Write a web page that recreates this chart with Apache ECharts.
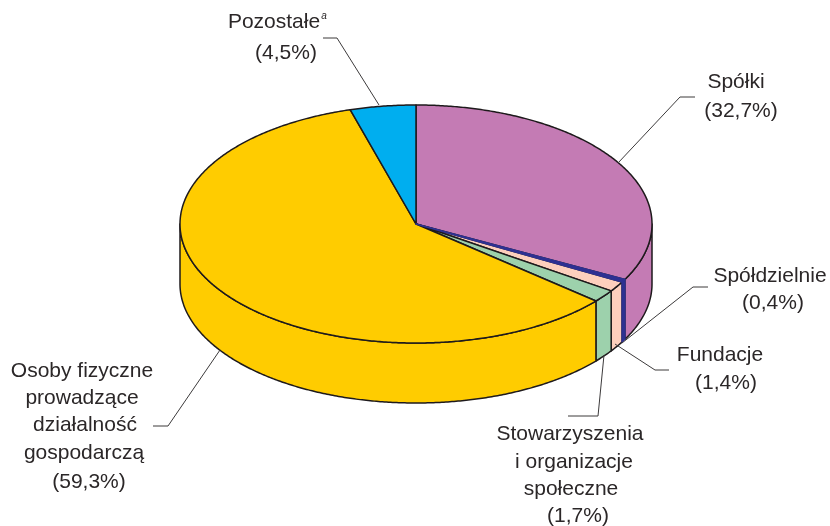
<!DOCTYPE html>
<html>
<head>
    <meta charset="utf-8">
    <title>Struktura podmiotów</title>
    <script src="https://cdn.jsdelivr.net/npm/echarts@6/dist/echarts.min.js"></script>
    <style>
        html, body { margin: 0; padding: 0; background: #fff; }
        #chart { width: 830px; height: 526px; }
    </style>
</head>
<body>
<div id="chart"></div>
<script>
// dane
const shares = [32.7, 0.4, 1.4, 1.7, 59.3, 4.5];
const nameLines = [
    ['Spółki'],
    ['Spółdzielnie'],
    ['Fundacje'],
    ['Stowarzyszenia', 'i organizacje', 'społeczne'],
    ['Osoby fizyczne', 'prowadzące', 'działalność', 'gospodarczą'],
    ['Pozostałe']
];
const footnotes = ['', '', '', '', '', 'a'];

// wyglad
const sliceColors = ['#c47bb4', '#2e3192', '#fdcfbd', '#9dd1ac', '#ffcc00', '#00aeef'];
const strokeColors = ['#1e1a1c', '#2e3192', '#1e1a1c', '#1e1a1c', '#1e1a1c', '#1e1a1c'];
const sliceZ = [1, 3, 2, 2, 2, 2];
const pie = { cx: 416, cy: 224, rx: 236, ry: 119, depth: 60 };

// srodek kazdej linii tekstu [x, y]
const labelPos = [
    [[736, 82], [741, 111]],
    [[770, 276], [773, 303]],
    [[720, 355], [726, 383]],
    [[570, 434], [574, 462], [571, 489], [578, 516]],
    [[82, 371], [82, 398], [85, 425], [84, 453], [89, 482]],
    [[274, 22], [286, 53]]
];
const notePos = [null, null, null, null, null, [324, 16]];
const leaders = [
    [[695, 97], [680, 97], [618, 163]],
    [[708, 287], [693, 287], [622, 343]],
    [[669, 370], [655, 370], [615, 344]],
    [[568, 416], [598, 416], [604, 355]],
    [[153, 426], [168, 426], [220, 350]],
    [[323, 38], [337, 38], [379, 105]]
];

const total = shares.reduce((a, b) => a + b, 0);

function rimPoint(deg, dy) {
    const t = deg * Math.PI / 180;
    return [pie.cx + pie.rx * Math.sin(t), pie.cy - pie.ry * Math.cos(t) + dy];
}

function arc(from, to, dy) {
    const pts = [];
    const n = Math.max(2, Math.ceil((to - from) * 2));
    for (let i = 0; i <= n; i++) pts.push(rimPoint(from + (to - from) * i / n, dy));
    return pts;
}

function renderSlice(params, api) {
    const i = params.dataIndex;
    let before = 0;
    for (let k = 0; k < i; k++) before += shares[k];
    const start = before / total * 360;
    const end = start + api.value(0) / total * 360;
    const lineStyle = { fill: sliceColors[i], stroke: strokeColors[i], lineWidth: 1.5, lineJoin: 'round' };
    const children = [];

    // bok walca, widoczny tylko na dolnej polowie
    const sideFrom = Math.max(start, 90);
    const sideTo = Math.min(end, 270);
    if (sideTo > sideFrom) {
        const top = arc(sideFrom, sideTo, 0);
        const bottom = arc(sideFrom, sideTo, pie.depth).reverse();
        children.push({
            type: 'polygon',
            z2: sliceZ[i],
            shape: { points: top.concat(bottom) },
            style: lineStyle
        });
    }
    children.push({
        type: 'polygon',
        z2: sliceZ[i],
        shape: { points: [[pie.cx, pie.cy]].concat(arc(start, end, 0)) },
        style: lineStyle
    });

    children.push({
        type: 'polyline',
        z2: 5,
        shape: { points: leaders[i] },
        style: { fill: null, stroke: '#3c3a3b', lineWidth: 1 }
    });

    const lines = nameLines[i].concat('(' + String(api.value(0)).replace('.', ',') + '%)');
    lines.forEach((text, k) => {
        children.push({
            type: 'text',
            z2: 6,
            style: {
                x: labelPos[i][k][0], y: labelPos[i][k][1], text: text,
                font: '21px "Liberation Sans", Arial, sans-serif',
                fill: '#2b2728', align: 'center', verticalAlign: 'middle'
            }
        });
    });
    if (footnotes[i]) {
        children.push({
            type: 'text',
            z2: 6,
            style: {
                x: notePos[i][0], y: notePos[i][1], text: footnotes[i],
                font: 'italic 10px "Liberation Sans", Arial, sans-serif',
                fill: '#2b2728', align: 'center', verticalAlign: 'middle'
            }
        });
    }
    return { type: 'group', children: children };
}

const chart = echarts.init(document.getElementById('chart'));
chart.setOption({
    animation: false,
    series: [{
        type: 'custom',
        coordinateSystem: 'none',
        silent: true,
        renderItem: renderSlice,
        data: shares.map(v => [v])
    }]
});
</script>
</body>
</html>
